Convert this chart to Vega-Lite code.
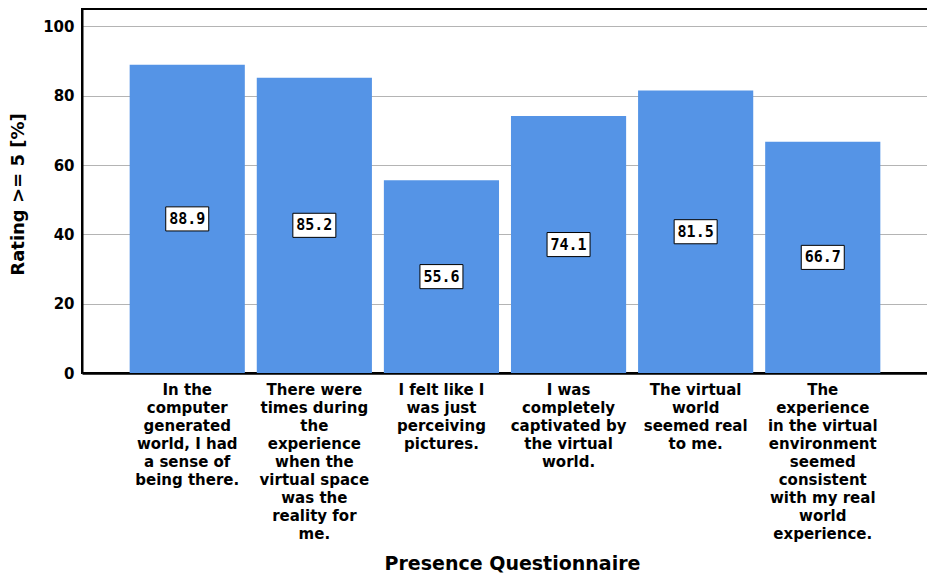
{
  "$schema": "https://vega.github.io/schema/vega-lite/v6.json",
  "width": 846,
  "height": 364,
  "autosize": {"type": "none"},
  "padding": {"left": 82, "top": 9, "right": 0, "bottom": 201},
  "background": "white",
  "config": {
    "view": {"stroke": "black", "strokeWidth": 2},
    "axis": {"labelFont": "DejaVu Sans", "titleFont": "DejaVu Sans", "labelColor": "black", "titleColor": "black"}
  },
  "data": {
    "values": [
      {"q": "In the|computer|generated|world, I had|a sense of|being there.", "v": 88.9},
      {"q": "There were|times during|the|experience|when the|virtual space|was the|reality for|me.", "v": 85.2},
      {"q": "I felt like I|was just|perceiving|pictures.", "v": 55.6},
      {"q": "I was|completely|captivated by|the virtual|world.", "v": 74.1},
      {"q": "The virtual|world|seemed real|to me.", "v": 81.5},
      {"q": "The|experience|in the virtual|environment|seemed|consistent|with my real|world|experience.", "v": 66.7}
    ]
  },
  "encoding": {
    "x": {
      "field": "q",
      "type": "nominal",
      "sort": null,
      "scale": {"paddingInner": 0.094, "paddingOuter": 0.375},
      "axis": {
        "labelExpr": "split(datum.label, '|')",
        "labelAngle": 0,
        "labelFontSize": 15,
        "labelFontWeight": "bold",
        "labelLineHeight": 18,
        "labelBaseline": "top",
        "labelPadding": 9,
        "labelLimit": 0,
        "ticks": false,
        "domainColor": "black",
        "domainWidth": 2.5,
        "title": "Presence Questionnaire",
        "titleFontSize": 19,
        "titleFontWeight": "bold",
        "titleX": 430,
        "titleY": 196,
        "titleAlign": "center",
        "titleBaseline": "alphabetic"
      }
    }
  },
  "layer": [
    {
      "mark": {"type": "bar", "color": "#5594e6"},
      "encoding": {
        "y": {
          "field": "v",
          "type": "quantitative",
          "scale": {"domain": [0, 105], "nice": false},
          "axis": {
            "values": [0, 20, 40, 60, 80, 100],
            "labelFontSize": 15,
            "labelFontWeight": "bold",
            "labelPadding": 8,
            "ticks": false,
            "gridColor": "#b4b4b4",
            "gridWidth": 1,
            "domainColor": "black",
            "domainWidth": 2,
            "title": "Rating >= 5 [%]",
            "titleFontSize": 18,
            "titleFontWeight": "bold",
            "titleX": -64,
            "titleY": 185,
            "titleAlign": "center",
            "titleBaseline": "middle",
            "titleAngle": -90
          }
        }
      }
    },
    {
      "mark": {"type": "point", "shape": "M-1,-0.56L1,-0.56L1,0.56L-1,0.56Z", "filled": true, "fill": "white", "stroke": "black", "strokeWidth": 1, "size": 1849, "opacity": 1},
      "encoding": {
        "y": {"field": "v", "type": "quantitative", "scale": {"domain": [0, 210], "nice": false}, "axis": null}
      }
    },
    {
      "mark": {"type": "text", "font": "DejaVu Sans Mono", "fontWeight": "bold", "fontSize": 15, "color": "black", "baseline": "middle"},
      "encoding": {
        "y": {"field": "v", "type": "quantitative", "scale": {"domain": [0, 210], "nice": false}, "axis": null},
        "text": {"field": "v", "type": "quantitative", "format": ".1f"}
      }
    }
  ],
  "resolve": {"scale": {"y": "independent"}}
}
